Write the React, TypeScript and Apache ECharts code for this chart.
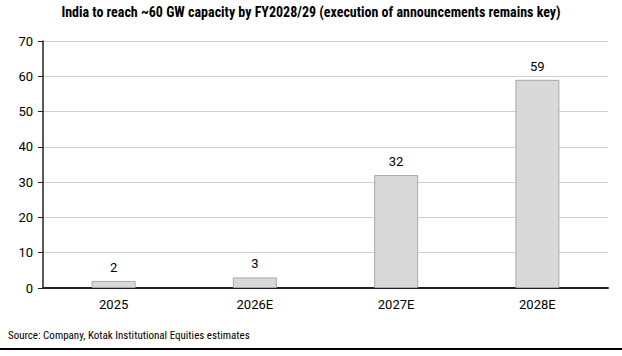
import React, { useEffect, useRef } from "react";
import * as echarts from "echarts";

const categories = ["2025", "2026E", "2027E", "2028E"];
const values = [2, 3, 32, 59];
const titleText = "India to reach ~60 GW capacity by FY2028/29 (execution of announcements remains key)";
const sourceText = "Source: Company, Kotak Institutional Equities estimates";

const narrow = "'Liberation Sans Narrow', 'Roboto Condensed', 'Arial Narrow', Roboto, sans-serif";

export default function App() {
  const ref = useRef<HTMLDivElement>(null);
  useEffect(() => {
    document.body.style.margin = "0";
    const chart = echarts.init(ref.current!, null, { renderer: "svg" });
    chart.setOption({
      animation: false,
      backgroundColor: "#ffffff",
      title: {
        text: titleText,
        left: "center",
        top: 0,
        textStyle: { fontFamily: narrow, fontWeight: "bold", fontSize: 14, color: "#000" },
      },
      grid: { left: 43, right: 14, top: 41, bottom: 68 },
      xAxis: {
        type: "category",
        data: categories,
        axisLine: { lineStyle: { color: "#222", width: 2 } },
        axisTick: { show: false },
        axisLabel: { color: "#000", fontFamily: "Roboto", fontSize: 13, margin: 10 },
      },
      yAxis: {
        type: "value",
        min: 0,
        max: 70,
        interval: 10,
        axisLine: { show: true, lineStyle: { color: "#222", width: 1.5 } },
        axisTick: { show: true, length: 5, lineStyle: { color: "#222" } },
        axisLabel: { color: "#000", fontFamily: "Roboto", fontSize: 13, margin: 10 },
        splitLine: { lineStyle: { color: "#d0d0d0", width: 1 } },
      },
      series: [
        {
          type: "bar",
          data: values,
          barWidth: 44,
          itemStyle: {
            color: "#d9d9d9",
            borderColor: "#a8a8a8",
            borderWidth: 1,
          },
          label: {
            show: true,
            position: "top",
            distance: 7,
            color: "#000",
            fontFamily: "Roboto",
            fontSize: 13,
          },
        },
      ],
      graphic: [
        {
          type: "text",
          left: 8,
          top: 330,
          style: { text: sourceText, font: `11px ${narrow}`, fill: "#000" },
        },
        {
          type: "rect",
          left: 0,
          top: 348,
          shape: { width: 622, height: 2 },
          style: { fill: "#000" },
        },
      ],
    });
    return () => chart.dispose();
  }, []);
  return <div ref={ref} style={{ width: 622, height: 356 }} />;
}
